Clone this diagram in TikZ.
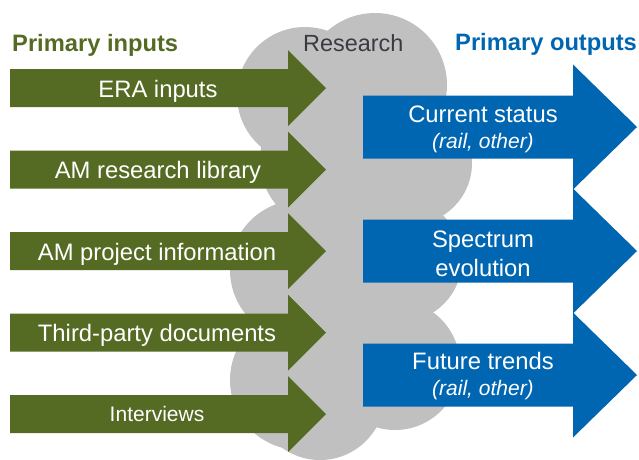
\documentclass[tikz,border=0pt]{standalone}
\usepackage{fontspec}
\setmainfont{Liberation Sans}
\usepackage{tikz}
\usetikzlibrary{positioning}

\definecolor{inputgreen}{RGB}{85,107,35}
\definecolor{outputblue}{RGB}{0,102,178}
\definecolor{cloudgray}{RGB}{192,192,192}
\definecolor{researchgray}{RGB}{58,58,66}

\begin{document}
\begin{tikzpicture}[
        x=1pt, y=-1pt,
        cloud/.style={fill=cloudgray},
        inarrow/.style={fill=inputgreen},
        outarrow/.style={fill=outputblue},
        intext/.style={text=white, inner sep=0pt, anchor=base, font=\fontsize{23.8}{28}\selectfont},
        smalltext/.style={intext, font=\fontsize{21}{25}\selectfont},
        outtext/.style={text=white, inner sep=0pt, align=center, font=\fontsize{23.8}{29}\selectfont},
        heading/.style={inner sep=0pt, anchor=base west, font=\bfseries\fontsize{23.7}{28}\selectfont},
    ]
    \useasboundingbox (0,0) rectangle (639,459);

    % Research cloud
    \fill[cloud] (305,95) circle (68);
    \fill[cloud] (375,85) circle (72);
    \fill[cloud] (410,163) circle (62);
    \fill[cloud] (400,260) circle (62);
    \fill[cloud] (395,365) circle (65);
    \fill[cloud] (320,395) circle (65);
    \fill[cloud] (300,270) circle (70);
    \fill[cloud] (300,380) circle (70);
    \fill[cloud] (350,250) circle (80);
    \fill[cloud] (330,160) circle (70);

    % Input arrows
    \fill[inarrow] (10,69) -- (288,69) -- (288,50) -- (326,88) -- (288,126) -- (288,107) -- (10,107) -- cycle;
    \fill[inarrow] (10,150.5) -- (288,150.5) -- (288,131.5) -- (326,169.5) -- (288,207.5) -- (288,188.5) -- (10,188.5) -- cycle;
    \fill[inarrow] (10,232) -- (288,232) -- (288,213) -- (326,251) -- (288,289) -- (288,270) -- (10,270) -- cycle;
    \fill[inarrow] (10,313.5) -- (288,313.5) -- (288,294.5) -- (326,332.5) -- (288,370.5) -- (288,351.5) -- (10,351.5) -- cycle;
    \fill[inarrow] (10,395) -- (288,395) -- (288,376) -- (326,414) -- (288,452) -- (288,433) -- (10,433) -- cycle;

    % Output arrows
    \fill[outarrow] (363,95.5) -- (573,95.5) -- (573,64.5) -- (637,127) -- (573,189.5) -- (573,158.5) -- (363,158.5) -- cycle;
    \fill[outarrow] (363,219.5) -- (573,219.5) -- (573,188.5) -- (637,251) -- (573,313.5) -- (573,282.5) -- (363,282.5) -- cycle;
    \fill[outarrow] (363,343.5) -- (573,343.5) -- (573,312.5) -- (637,375) -- (573,437.5) -- (573,406.5) -- (363,406.5) -- cycle;

    % Headings
    \node[heading, text=inputgreen] (inputs) at (12,51) {Primary inputs};
    \node[heading, text=outputblue] (outputs) at (455,50) {Primary outputs};
    \node[inner sep=0pt, anchor=base west, text=researchgray, font=\fontsize{23.4}{28}\selectfont] (research) at (303,51) {Research};

    % Input labels
    \node[intext] (era) at (158,97) {ERA inputs};
    \node[intext] (library) at (158,178.5) {AM research library};
    \node[intext] (project) at (157,260) {AM project information};
    \node[intext] (thirdparty) at (157,341.5) {Third-party documents};
    \node[smalltext] (interviews) at (157,421.5) {Interviews};

    % Output labels
    \node[outtext] (current) at (483,129) {Current status\\[-3pt]{\fontsize{21}{25}\selectfont\itshape (rail, other)}};
    \node[outtext] (spectrum) at (483,254) {Spectrum\\evolution};
    \node[outtext] (future) at (483,376) {Future trends\\[-3pt]{\fontsize{21}{25}\selectfont\itshape (rail, other)}};
\end{tikzpicture}
\end{document}
